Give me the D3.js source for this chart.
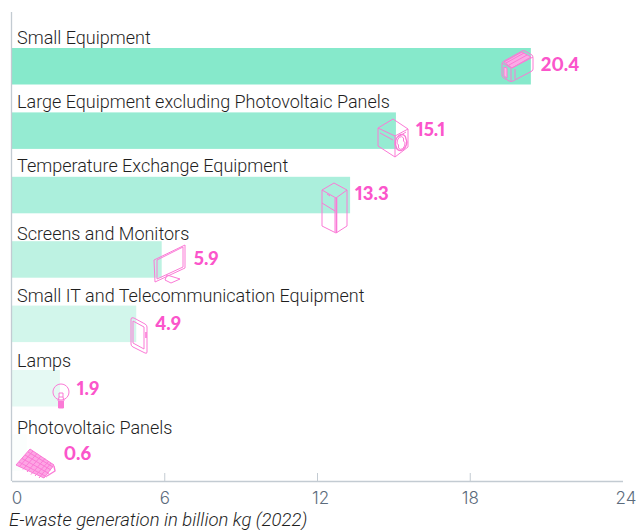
<!DOCTYPE html>
<html>
<head>
<meta charset="utf-8">
<script src="https://cdn.jsdelivr.net/npm/d3@7"></script>
<style>
  html, body { margin: 0; padding: 0; background: #fff; }
  svg { display: block; }
  .cat { font-family: "Roboto", sans-serif; font-weight: 300; font-size: 18px; fill: #1f1f1f; }
  .val { font-family: "Lato", sans-serif; font-weight: 900; font-size: 18.5px; fill: #fb55cb; font-variant-numeric: proportional-nums; font-feature-settings: "pnum"; }
  .tick-label { font-family: "Inter", sans-serif; font-weight: 300; font-size: 17px; fill: #5b6b7c; }
  .axis-title { font-family: "Roboto", sans-serif; font-weight: 300; font-style: italic; font-size: 18.5px; fill: #1f1f1f; }
</style>
</head>
<body>
<div id="chart"></div>
<script>
const categories = [
  "Small Equipment",
  "Large Equipment excluding Photovoltaic Panels",
  "Temperature Exchange Equipment",
  "Screens and Monitors",
  "Small IT and Telecommunication Equipment",
  "Lamps",
  "Photovoltaic Panels"
];
const values = [20.4, 15.1, 13.3, 5.9, 4.9, 1.9, 0.6];
const barColors = ["#86e9cb", "#95ebd2", "#abefdc", "#bdf2e2", "#d2f6eb", "#e5f9f3", "#fbfefd"];
const tickValues = [0, 6, 12, 18, 24];

const width = 636, height = 530;
const pink = "#fb7ad6";

const svg = d3.select("#chart").append("svg")
  .attr("width", width).attr("height", height);

const x = d3.scaleLinear().domain([0, 24]).range([11.5, 622.5]);
const barH = 36.5;
const rowTop = i => 48 + i * 64.4;

// Bars
svg.append("g").selectAll("rect").data(values).join("rect")
  .attr("x", x(0))
  .attr("y", (d, i) => rowTop(i))
  .attr("width", d => x(d) - x(0))
  .attr("height", barH)
  .attr("fill", (d, i) => barColors[i]);

// Axis lines and ticks
const axisY = 481;
const axis = svg.append("g").attr("transform", `translate(0,${axisY})`)
  .call(d3.axisBottom(x).tickValues(tickValues).tickSize(0).tickPadding(9));
axis.select(".domain").attr("stroke", "#c3cbd2").attr("stroke-width", 1.3);
axis.selectAll(".tick line")
  .attr("y1", 0).attr("y2", d => (d === 0 || d === 24) ? 0 : -8)
  .attr("stroke", "#c3cbd2").attr("stroke-width", 1);
axis.selectAll(".tick text").attr("class", "tick-label").attr("text-anchor", "middle")
  .attr("dx", d => d === 0 ? 5 : d === 24 ? 3 : d === 12 ? 3 : 0).attr("dy", "0.85em");
svg.append("line").attr("x1", x(0)).attr("x2", x(0)).attr("y1", 12).attr("y2", axisY)
  .attr("stroke", "#c3cbd2").attr("stroke-width", 1.3);

// Category names above each bar
const catY = [44, 107.5, 172, 239.5, 301.5, 367, 433.5];
svg.append("g").selectAll("text").data(categories).join("text")
  .attr("class", "cat").attr("x", 17).attr("y", (d, i) => catY[i]).text(d => d);

// Value labels, offset from the end of each bar
const labelDx = [10, 20, 5, 32, 19, 17, 37];
const labelY = [71, 136, 200, 265, 330, 395, 460];
svg.append("g").selectAll("text").data(values).join("text")
  .attr("class", "val")
  .attr("x", (d, i) => x(d) + labelDx[i])
  .attr("y", (d, i) => labelY[i])
  .text(d => d.toFixed(1));

// Line-art product icons
const icons = svg.append("g").attr("fill", "none").attr("stroke", pink).attr("stroke-width", 1).attr("stroke-linejoin", "round");
function icon(tx, ty, paths) {
  const g = icons.append("g").attr("transform", `translate(${tx},${ty})`);
  paths.forEach(p => g.append("path").attr("d", p.d || p).attr("fill", p.fill || "none").attr("stroke-width", p.w || 1));
}
// Toaster
icon(501, 50, [
  "M1 14 Q1 12 3 11 L21 1 Q22 0 24 1 L31 5 Q32 6 32 8 L32 19 Q32 20 31 21 L12 31 Q10 32 8 31 L3 28 Q1 27 1 25 Z",
  {d: "M3 12 L21 2 L30 7 L11 18 Z", fill: "#fba9e6"},
  "M5 13 L23 3 M8 15 L26 5",
  "M1 13 L10 18 L10 31 M11 18 L32 7",
  {d: "M3 17 L6 18 L6 28 L3 26 Z", fill: "#fbb8e8"},
  "M14 19 L14 29"
]);
// Washing machine
icon(378, 119, [
  "M15 0 L30 10 L30 28 L17 38 L0 27 L0 9 Z",
  "M0 9 L17 17 L30 10 M17 17 L17 38",
  "M2 14 L15 21",
  "M20 18 L28 13",
  {d: "M18 27 a5 7 25 1 0 10 -7 a5 7 25 1 0 -10 7 Z", w: 1.4},
  "M20.5 26 a3 4.5 25 1 0 5 -4 a3 4.5 25 1 0 -5 4 Z"
]);
// Refrigerator
icon(322, 183, [
  "M0 7 L12 0 L25 7 L25 43 L14 50 L0 43 Z",
  "M0 7 L14 15 L25 7",
  {d: "M13 15 L13 49", w: 1},
  {d: "M14.5 15 L14.5 50", w: 1.6},
  "M0 20 L13 28",
  "M5 11 L8 13"
]);
// Desktop monitor
icon(154, 245, [
  "M0 15 L31 0 L31 23 L1 37 Z",
  "M3 15 L29 2 L29 22 L3 34 Z",
  "M13 30 L26 34 L17 38 L11 35 Z"
]);
// Smartphone
icon(131, 317, [
  "M0 2 Q0 0 3 1 L14 7 Q16 8 16 10 L16 35 Q16 37 14 36 L2 30 Q0 29 0 27 Z",
  "M2 4 L13 10 L13 32 L2 26 Z",
  {d: "M15 15 L15 21", w: 1.6}
]);
// Light bulb
icon(53, 384, [
  "M8 0 a8 8 0 1 1 -0.01 0 Z",
  "M6 9 L10 9 L10 13 L6 13 Z",
  {d: "M5.5 17 L10.5 17 L10.5 24 L5.5 24 Z", fill: pink},
  "M6 13 L5 17 M10 13 L11 17"
]);
// Solar panel
icon(16, 449, [
  {d: "M0 16 L14 0 L38 16 L28 29 Z", fill: "#fda5e4"},
  "M3 18 L17 2 M7 20.5 L21 4.5 M11 23 L25 7 M15 25.5 L29 9.5 M19 27 L33 12 M23 29 L35 14",
  "M3 13 L31 28 M6 9.5 L33 24.5 M9 6 L35 21 M12 3 L37 18",
  {d: "M31 27 L39 22 L38 17", w: 1.4}
]);

// Axis title
svg.append("text").attr("class", "axis-title").attr("x", 9).attr("y", 526)
  .text("E-waste generation in billion kg (2022)");
</script>
</body>
</html>
